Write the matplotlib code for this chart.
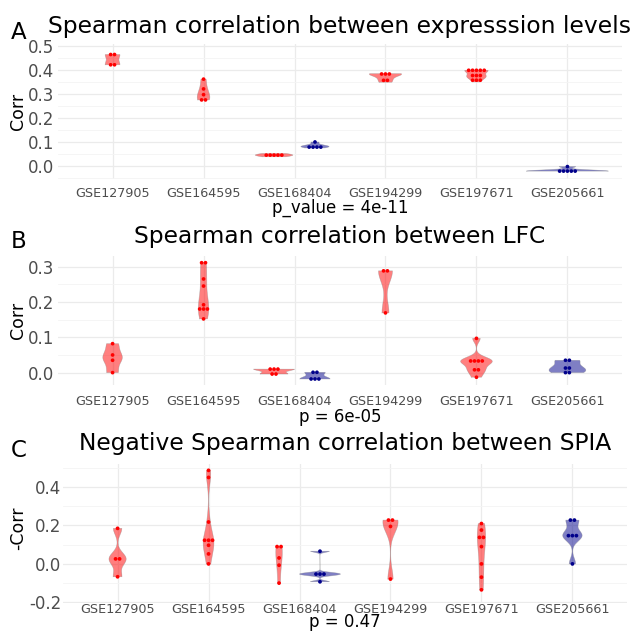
import numpy as np
import matplotlib
matplotlib.use("Agg")
import matplotlib.pyplot as plt

# datasets on the x axis
categories = ["GSE127905", "GSE164595", "GSE168404", "GSE194299", "GSE197671", "GSE205661"]

# group of each violin: category index, group colour key
violin_slots = [(0, "red"), (1, "red"), (2, "red"), (2, "blue"), (3, "red"), (4, "red"), (5, "blue")]

# A: correlation between expression levels
expr_127905 = [0.466, 0.466, 0.423, 0.423]
expr_164595 = [0.363, 0.322, 0.298, 0.276, 0.276]
expr_168404_red = [0.038, 0.042, 0.045, 0.048, 0.052]
expr_168404_blue = [0.100, 0.082, 0.082, 0.082, 0.075]
expr_194299 = [0.386, 0.385, 0.383, 0.366, 0.350]
expr_197671 = [0.400, 0.400, 0.400, 0.400, 0.400, 0.378, 0.378, 0.378, 0.366, 0.366, 0.351]
expr_205661 = [-0.003, -0.022, -0.022, -0.022, -0.022, -0.022]

# B: correlation between LFC
lfc_127905 = [0.082, 0.050, 0.035, 0.0]
lfc_164595 = [0.312, 0.310, 0.265, 0.245, 0.192, 0.182, 0.180, 0.178, 0.152]
lfc_168404_red = [0.010, 0.010, 0.010, -0.004, -0.004]
lfc_168404_blue = [0.001, 0.001, -0.018, -0.018, -0.018]
lfc_194299 = [0.288, 0.288, 0.169]
lfc_197671 = [0.097, 0.033, 0.033, 0.033, 0.033, 0.008, 0.008, -0.013]
lfc_205661 = [0.035, 0.035, 0.013, 0.013, 0.0, 0.0]

# C: negative correlation between SPIA
spia_127905 = [0.185, 0.026, 0.026, -0.067]
spia_164595 = [0.487, 0.450, 0.218, 0.123, 0.123, 0.123, 0.097, 0.052, 0.0]
spia_168404_red = [0.090, 0.090, 0.031, -0.007, -0.100]
spia_168404_blue = [0.066, -0.047, -0.053, -0.059, -0.093]
spia_194299 = [0.228, 0.228, 0.195, -0.079]
spia_197671 = [0.210, 0.176, 0.138, 0.138, 0.090, 0.0, -0.069, -0.135]
spia_205661 = [0.228, 0.228, 0.147, 0.147, 0.147, 0.0]

expr = [expr_127905, expr_164595, expr_168404_red, expr_168404_blue, expr_194299, expr_197671, expr_205661]
lfc = [lfc_127905, lfc_164595, lfc_168404_red, lfc_168404_blue, lfc_194299, lfc_197671, lfc_205661]
spia = [spia_127905, spia_164595, spia_168404_red, spia_168404_blue, spia_194299, spia_197671, spia_205661]

titles = ["Spearman correlation between expresssion levels",
          "Spearman correlation between LFC",
          "Negative Spearman correlation between SPIA"]
letters = ["A", "B", "C"]
ylabels = ["Corr", "Corr", "-Corr"]
captions = ["p_value = 4e-11", "p = 6e-05", "p = 0.47"]

COLORS = {"red": "#FF0000", "blue": "#00008B"}
W, H = 633, 634


def bw_nrd0(x):
    hi = np.std(x, ddof=1)
    q75, q25 = np.percentile(x, [75, 25])
    lo = min(hi, (q75 - q25) / 1.34)
    if lo == 0:
        lo = hi or abs(x[0]) or 1.0
    return 0.9 * lo * len(x) ** -0.2


def density(x):
    x = np.asarray(x, float)
    grid = np.linspace(x.min(), x.max(), 512)
    bw = bw_nrd0(x)
    d = np.exp(-0.5 * ((grid[:, None] - x[None, :]) / bw) ** 2).sum(1)
    return grid, d / (len(x) * bw * np.sqrt(2 * np.pi))


def dot_bins(x, binwidth):
    x = np.sort(np.asarray(x, float))
    bins = []
    i = 0
    while i < len(x):
        j = i
        while j < len(x) and x[j] < x[i] + binwidth:
            j += 1
        bins.append(((x[i] + x[j - 1]) / 2, j - i))
        i = j
    return bins


def px_rect(left, top, right, bottom):
    return [left / W, 1 - bottom / H, (right - left) / W, (bottom - top) / H]


panel_specs = [
    dict(data=expr, rect=(58, 44, 622, 179), ylim=(-0.055, 0.51),
         yticks=[0, 0.1, 0.2, 0.3, 0.4, 0.5], yminor=[-0.05, 0.05, 0.15, 0.25, 0.35, 0.45],
         title_y=33, letter_y=39, ylabel_y=111, caption_y=213, xpad=5.5, ypad=2.7),
    dict(data=lfc, rect=(58, 256, 622, 385), ylim=(-0.035, 0.33),
         yticks=[0, 0.1, 0.2, 0.3], yminor=[0.05, 0.15, 0.25],
         title_y=243, letter_y=248, ylabel_y=320, caption_y=422, xpad=7.0, ypad=2.7),
    dict(data=spia, rect=(63, 464, 627, 602.6), ylim=(-0.2015, 0.52),
         yticks=[-0.2, 0, 0.2, 0.4], yminor=[-0.1, 0.1, 0.3, 0.5],
         title_y=450, letter_y=457, ylabel_y=528, caption_y=627, xpad=0.5, ypad=1.3),
]

fig = plt.figure(figsize=(W / 100, H / 100), dpi=100)

for k, spec in enumerate(panel_specs):
    left, top, right, bottom = spec["rect"]
    ax = fig.add_axes(px_rect(left, top, right, bottom))
    ax.set_xlim(0.4, len(categories) + 0.6)
    ax.set_ylim(*spec["ylim"])
    ax.set_axisbelow(True)

    px_per_x = (right - left) / (len(categories) + 0.2)
    px_per_y = (bottom - top) / (spec["ylim"][1] - spec["ylim"][0])

    # how many groups share each category
    n_at = {}
    for ci, _ in violin_slots:
        n_at[ci] = n_at.get(ci, 0) + 1
    seen = {}

    dens = [density(v) for v in spec["data"]]
    dmax = max(d.max() for _, d in dens)
    allv = np.concatenate([np.asarray(v) for v in spec["data"]])
    binwidth = (allv.max() - allv.min()) / 30
    dot_px = binwidth * px_per_y
    dx = dot_px / px_per_x

    for (ci, grp), vals, (grid, d) in zip(violin_slots, spec["data"], dens):
        n = n_at[ci]
        j = seen.get(ci, 0)
        seen[ci] = j + 1
        width = 0.9 / n
        xc = ci + 1 - 0.45 + width * (j + 0.5)
        half = d / dmax * width / 2
        col = COLORS[grp]
        ax.fill_betweenx(grid, xc - half, xc + half, facecolor=col, alpha=0.5,
                         edgecolor="none", zorder=2)
        ax.plot(np.r_[xc - half, (xc + half)[::-1], xc - half[0]],
                np.r_[grid, grid[::-1], grid[0]], color="#888888", lw=0.4,
                alpha=0.5, zorder=2)
        xs, ys = [], []
        for center, cnt in dot_bins(vals, binwidth):
            for m in range(cnt):
                xs.append(xc + (m - (cnt - 1) / 2) * dx)
                ys.append(center)
        ax.scatter(xs, ys, s=(dot_px * 0.72 * 0.95) ** 2, color=col,
                   edgecolors="none", zorder=3)

    ax.set_xticks(range(1, len(categories) + 1))
    ax.set_xticklabels(categories, fontsize=9.2, color="#4D4D4D")
    ax.set_yticks(spec["yticks"])
    ax.set_yticklabels(["%.1f" % t for t in spec["yticks"]], fontsize=12, color="#4D4D4D")
    ax.set_yticks(spec["yminor"], minor=True)
    ax.tick_params(axis="both", which="both", length=0)
    ax.tick_params(axis="x", pad=spec["xpad"])
    ax.tick_params(axis="y", pad=spec["ypad"])
    ax.grid(which="major", color="#EBEBEB", lw=0.9)
    ax.grid(which="minor", axis="y", color="#F4F4F4", lw=0.6)
    for s in ax.spines.values():
        s.set_visible(False)

    cx = (left + right) / 2 / W
    fig.text(cx, 1 - spec["title_y"] / H, titles[k], fontsize=16.8, ha="center", va="baseline")
    fig.text(11 / W, 1 - spec["letter_y"] / H, letters[k], fontsize=16.5, ha="left", va="baseline")
    fig.text(18 / W, 1 - spec["ylabel_y"] / H, ylabels[k], fontsize=12.5, rotation=90,
             ha="center", va="center")
    fig.text(cx, 1 - spec["caption_y"] / H, captions[k], fontsize=12, ha="center", va="baseline")

fig.savefig("out.png", dpi=100)
